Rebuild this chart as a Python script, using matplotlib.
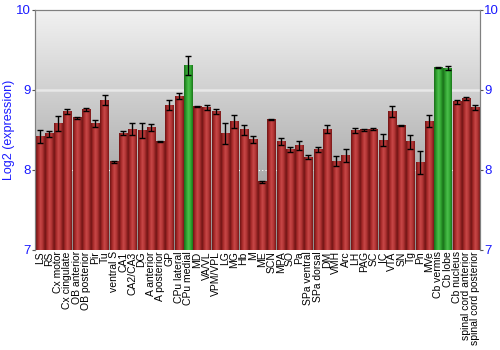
import numpy as np
import matplotlib
matplotlib.use('Agg')
import matplotlib.pyplot as plt
from matplotlib.colors import LinearSegmentedColormap

plt.rcParams['font.family'] = ['Liberation Sans', 'DejaVu Sans']

regions = ['LS', 'RS', 'Cx motor', 'Cx cingulate', 'OB anterior', 'OB posterior', 'Pir', 'Tu',
           'ventral S', 'CA1', 'CA2/CA3', 'DG', 'A anterior', 'A posterior', 'GP', 'CPu lateral',
           'CPu medial', 'MD', 'VA/VL', 'VPM/VPL', 'LG', 'MG', 'Hb', 'M', 'ME', 'SCN', 'MPA', 'SO',
           'Pa', 'SPa ventral', 'SPa dorsal', 'DM', 'VMH', 'Arc', 'LH', 'PAG', 'SC', 'IC', 'VTA',
           'SN', 'Tg', 'Pn', 'MVe', 'Cb vermis', 'Cb lobe', 'Cb nucleus', 'spinal cord anterior',
           'spinal cord posterior']
expr = [8.42, 8.45, 8.58, 8.73, 8.65, 8.75, 8.58, 8.87,
        8.10, 8.46, 8.51, 8.49, 8.53, 8.35, 8.81, 8.92,
        9.30, 8.79, 8.78, 8.73, 8.45, 8.60, 8.50, 8.38, 7.85, 8.63, 8.35, 8.25,
        8.30, 8.16, 8.25, 8.51, 8.11, 8.18, 8.49, 8.50, 8.51, 8.37, 8.73,
        8.55, 8.35, 8.09, 8.61, 9.28, 9.27, 8.85, 8.89,
        8.78]
err = [0.08, 0.04, 0.09, 0.03, 0.01, 0.02, 0.04, 0.06,
       0.01, 0.03, 0.08, 0.09, 0.045, 0.005, 0.065, 0.04,
       0.12, 0.005, 0.03, 0.035, 0.13, 0.08, 0.06, 0.045, 0.01, 0.01, 0.045, 0.03,
       0.055, 0.025, 0.03, 0.045, 0.065, 0.08, 0.03, 0.01, 0.015, 0.077, 0.065,
       0.005, 0.085, 0.14, 0.08, 0.005, 0.027, 0.027, 0.02,
       0.03]
highlight = ['CPu medial', 'Cb vermis', 'Cb lobe']
yticks = [7, 8, 9, 10]

blue = '#1a1aff'
red_cmap = LinearSegmentedColormap.from_list('r', ['#6e1414', '#a82a2a', '#c84848', '#b03434', '#7a1818'])
green_cmap = LinearSegmentedColormap.from_list('g', ['#1a6e1a', '#2e9e2e', '#4cc04c', '#34a834', '#1a781a'])
bg_cmap = LinearSegmentedColormap.from_list('bg', ['#8e8e8e', '#f2f2f2'])

fig = plt.figure(figsize=(5, 3.5), dpi=100)
ax = fig.add_axes([0.07, 0.286, 0.89, 0.686])

n = len(regions)
x = np.arange(n)
ymin, ymax = 7, 10
ax.set_xlim(-0.5, n - 0.5)
ax.set_ylim(ymin, ymax)

# background gradient
grad = np.linspace(0, 1, 256).reshape(-1, 1)
ax.imshow(grad, cmap=bg_cmap, origin='lower', aspect='auto',
          extent=[-0.5, n - 0.5, ymin, ymax], zorder=0)

ax.axhline(9, color='#e8e8e8', linewidth=1.8, zorder=1)
ax.axhline(8, color='white', linewidth=0.8, linestyle=(0, (1, 2)), zorder=1)

# bars with horizontal shading
hgrad = np.linspace(0, 1, 64).reshape(1, -1)
bw = 0.88
for xi, name, v in zip(x, regions, expr):
    cmap = green_cmap if name in highlight else red_cmap
    ax.imshow(hgrad, cmap=cmap, aspect='auto',
              extent=[xi - bw / 2, xi + bw / 2, ymin, v], zorder=2)

ax.errorbar(x, expr, yerr=err, fmt='none', ecolor='black', elinewidth=1,
            capsize=2, capthick=1, zorder=3)

ax.set_xticks(x)
ax.set_xticklabels(regions, rotation=90, fontsize=7.5)
ax.tick_params(axis='x', length=0, pad=1)

ax.set_yticks(yticks)
ax.set_yticklabels([str(t) for t in yticks], color=blue, fontsize=9.5)
ax.tick_params(axis='y', color='#555555', length=2.5, pad=0.5)
ax.set_ylabel('Log2 (expression)', color=blue, fontsize=9, labelpad=0.8)

ax2 = ax.twinx()
ax2.set_ylim(ymin, ymax)
ax2.set_yticks(yticks)
ax2.set_yticklabels([str(t) for t in yticks], color=blue, fontsize=9.5)
ax2.tick_params(axis='y', color='#555555', length=2.5, pad=0.5)

for a in (ax, ax2):
    for side in ['left', 'right', 'top']:
        a.spines[side].set_color('#808080')
    a.spines['bottom'].set_visible(False)

fig.savefig('out.png', dpi=100)
